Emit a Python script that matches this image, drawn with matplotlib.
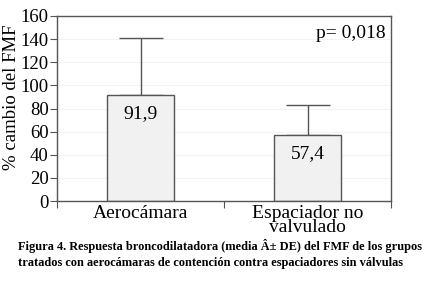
import matplotlib.pyplot as plt
import numpy as np

# data
groups = ['Aerocámara', 'Espaciador no\nvalvulado']
means = [91.9, 57.4]
sd = [49.0, 26.0]
labels = ['91,9', '57,4']
p_text = 'p= 0,018'
caption = ('Figura 4. Respuesta broncodilatadora (media Â± DE) del FMF de los grupos\n'
           'tratados con aerocámaras de contención contra espaciadores sin válvulas')

plt.rcParams['font.family'] = ['Liberation Serif', 'DejaVu Serif']

fig = plt.figure(figsize=(4.33, 2.84), dpi=100)
ax = fig.add_axes([57/433, 1 - 201/284, 334/433, 185/284])

x = np.arange(len(groups))
gray = '#555555'
ax.bar(x, means, width=0.4, color='#f1f1f1', edgecolor=gray, linewidth=1.0, zorder=2)
ax.errorbar(x, means, yerr=[np.zeros(len(sd)), sd], fmt='none', ecolor=gray,
            elinewidth=1.0, capsize=16, capthick=1.0, zorder=1)

for xi, m, t in zip(x, means, labels):
    ax.text(xi, m - 9, t, ha='center', va='top', fontsize=14, zorder=3)

ax.text(0.985, 0.905, p_text, transform=ax.transAxes, ha='right', va='center', fontsize=14)

ax.set_xlim(-0.5, 1.5)
ax.set_ylim(0, 160)
ax.set_yticks(range(0, 161, 20))
ax.set_xticks([-0.5, 0.5, 1.5])
ax.set_xticklabels([])
ax.set_xticks(x, minor=True)
ax.set_xticklabels(groups, minor=True, fontsize=14, linespacing=0.78)
ax.tick_params(axis='x', which='minor', length=0, pad=3)
ax.tick_params(axis='x', which='major', length=5, color=gray)
ax.tick_params(axis='y', length=5, color=gray, labelsize=13.5, pad=1)
for ax_grid in range(20, 160, 20):
    ax.axhline(ax_grid, color='#f3f3f3', linewidth=0.8, zorder=0)
for s in ax.spines.values():
    s.set_color(gray)
    s.set_linewidth(1.0)
ax.set_ylabel('% cambio del FMF', fontsize=13.5)
ax.yaxis.set_label_coords(-0.11, 0.56)

fig.text(18/433, 1 - 239/284, caption, ha='left', va='top', fontsize=8.9,
         fontweight='bold', family='Liberation Serif', linespacing=1.4)

fig.savefig('out.png', dpi=100)
